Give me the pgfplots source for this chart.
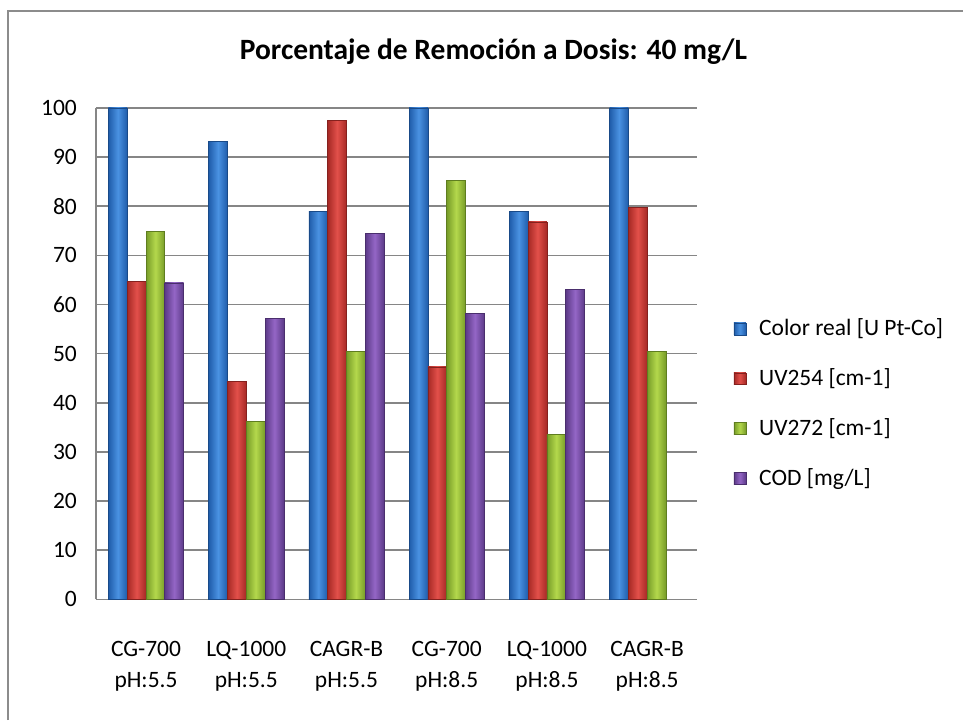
\documentclass[border=0pt]{standalone}
\usepackage{fontspec}
\setmainfont{Carlito}
\usepackage{pgfplots}
\pgfplotsset{compat=1.18}

\definecolor{blueD}{HTML}{1F5CAA}
\definecolor{blueL}{HTML}{4A92E2}
\definecolor{redD}{HTML}{A62925}
\definecolor{redL}{HTML}{E2504A}
\definecolor{greenD}{HTML}{779C28}
\definecolor{greenL}{HTML}{B4D84C}
\definecolor{purpleD}{HTML}{5C3A88}
\definecolor{purpleL}{HTML}{9466C6}
\definecolor{gridgray}{HTML}{868686}
\definecolor{framegray}{HTML}{8C8C8C}

% cylinder-like bars: dark edges, light centre (middle color must come last)
\pgfplotsset{
  barBlue/.style={draw=blueD!80!black, line width=0.3pt, left color=blueD, right color=blueD, middle color=blueL},
  barRed/.style={draw=redD!80!black, line width=0.3pt, left color=redD, right color=redD, middle color=redL},
  barGreen/.style={draw=greenD!80!black, line width=0.3pt, left color=greenD, right color=greenD, middle color=greenL},
  barPurple/.style={draw=purpleD!80!black, line width=0.3pt, left color=purpleD, right color=purpleD, middle color=purpleL},
}

% one bar = one plot, so that each bar gets its own shading
% #1 style, #2 shift inside the group, #3 group index, #4 value
\newcommand{\onebar}[4]{\addplot[#1, bar shift=#2, forget plot] coordinates {(#3,#4)};}

\begin{document}
\begin{tikzpicture}
  % canvas and chart-area frame
  \path (0pt,0pt) rectangle (482pt,360.5pt);
  \draw[framegray, line width=1pt] (4pt,0pt) -- (4pt,355pt) -- (482pt,355pt);
  \node[font=\fontsize{14.75}{17}\selectfont\bfseries] at (247pt,334.5pt)
    {Porcentaje de Remoción a Dosis: 40 mg/L};
  \begin{axis}[
    at={(48pt,60.5pt)}, anchor=south west,
    scale only axis, width=301pt, height=246pt,
    xmin=-0.5, xmax=5.5, ymin=0, ymax=100,
    ytick={0,10,...,100},
    xtick={0,...,5},
    xticklabels={{CG-700\\pH:5.5},{LQ-1000\\pH:5.5},{CAGR-B\\pH:5.5},
                 {CG-700\\pH:8.5},{LQ-1000\\pH:8.5},{CAGR-B\\pH:8.5}},
    xticklabel style={align=center, yshift=-17.5pt},
    yticklabel style={xshift=-6pt},
    major tick length=0pt,
    axis x line*=bottom, axis y line*=left,
    axis line style={gridgray, line width=0.75pt, -},
    ymajorgrids, grid style={gridgray, line width=0.75pt},
    ybar, bar width=9.4pt,
    tick label style={font=\fontsize{11.75}{15.5}\selectfont},
    /pgf/number format/assume math mode=true,
    legend style={draw=none, fill=none, at={(1,0.398)}, anchor=west,
      xshift=18pt, row sep=11pt, inner sep=0pt,
      font=\fontsize{11.75}{14}\selectfont},
    legend cell align=left,
    legend image code/.code={\path[#1] (0pt,-3pt) rectangle (6pt,3pt); \path (10.5pt,0pt);},
  ]
    % Color real [U Pt-Co]
    \onebar{barBlue}{-14.1pt}{0}{100}
    \onebar{barBlue}{-14.1pt}{1}{93.2}
    \onebar{barBlue}{-14.1pt}{2}{79.0}
    \onebar{barBlue}{-14.1pt}{3}{100}
    \onebar{barBlue}{-14.1pt}{4}{79.0}
    \onebar{barBlue}{-14.1pt}{5}{100}
    % UV254 [cm-1]
    \onebar{barRed}{-4.7pt}{0}{64.7}
    \onebar{barRed}{-4.7pt}{1}{44.3}
    \onebar{barRed}{-4.7pt}{2}{97.5}
    \onebar{barRed}{-4.7pt}{3}{47.3}
    \onebar{barRed}{-4.7pt}{4}{76.8}
    \onebar{barRed}{-4.7pt}{5}{79.8}
    % UV272 [cm-1]
    \onebar{barGreen}{4.7pt}{0}{74.8}
    \onebar{barGreen}{4.7pt}{1}{36.2}
    \onebar{barGreen}{4.7pt}{2}{50.4}
    \onebar{barGreen}{4.7pt}{3}{85.2}
    \onebar{barGreen}{4.7pt}{4}{33.5}
    \onebar{barGreen}{4.7pt}{5}{50.4}
    % COD [mg/L] (no value for the last treatment)
    \onebar{barPurple}{14.1pt}{0}{64.4}
    \onebar{barPurple}{14.1pt}{1}{57.1}
    \onebar{barPurple}{14.1pt}{2}{74.4}
    \onebar{barPurple}{14.1pt}{3}{58.2}
    \onebar{barPurple}{14.1pt}{4}{63.1}
    % legend
    \addlegendimage{barBlue}\addlegendentry{Color real [U Pt-Co]}
    \addlegendimage{barRed}\addlegendentry{UV254 [cm-1]}
    \addlegendimage{barGreen}\addlegendentry{UV272 [cm-1]}
    \addlegendimage{barPurple}\addlegendentry{COD [mg/L]}
  \end{axis}
\end{tikzpicture}
\end{document}
